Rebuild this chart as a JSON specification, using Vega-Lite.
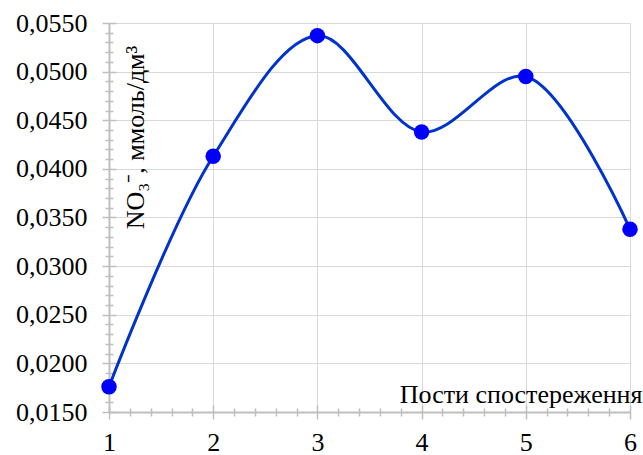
{
  "$schema": "https://vega.github.io/schema/vega-lite/v6.json",
  "width": 521,
  "height": 389,
  "autosize": "none",
  "padding": {"left": 109, "top": 23, "right": 13, "bottom": 43},
  "background": "white",
  "config": {
    "font": "Liberation Serif",
    "view": {"stroke": null},
    "axis": {
      "labelFont": "Liberation Serif",
      "titleFont": "Liberation Serif",
      "labelFontSize": 26,
      "titleFontSize": 26,
      "labelColor": "#000000",
      "titleColor": "#000000",
      "titleFontWeight": "normal",
      "tickColor": "#bfbfbf",
      "tickWidth": 1.5,
      "domain": false
    }
  },
  "data": {
    "values": [
      {"post": 1, "no3": 0.0176},
      {"post": 2, "no3": 0.0413},
      {"post": 3, "no3": 0.0537},
      {"post": 4, "no3": 0.0438},
      {"post": 5, "no3": 0.0495},
      {"post": 6, "no3": 0.0338}
    ]
  },
  "layer": [
    {
      "mark": {"type": "line", "interpolate": "catmull-rom", "color": "#0033cc", "strokeWidth": 3},
      "encoding": {
        "x": {
          "field": "post", "type": "quantitative",
          "scale": {"domain": [1, 6], "nice": false, "zero": false},
          "axis": {
            "orient": "bottom",
            "values": [1, 2, 3, 4, 5, 6],
            "format": "d",
            "offset": -7,
            "tickSize": 14,
            "labelPadding": 31,
            "labelBaseline": "alphabetic",
            "labelFont": "Liberation Serif",
            "labelFontSize": 26,
            "grid": true,
            "gridColor": {"condition": {"test": "datum.value === 1", "value": "#bfbfbf"}, "value": "#d9d9d9"},
            "gridWidth": {"condition": {"test": "datum.value === 1", "value": 2}, "value": 1},
            "title": "Пости спостереження",
            "titleFont": "Liberation Serif",
            "titleAlign": "right",
            "titleBaseline": "alphabetic",
            "titleX": 533,
            "titleY": -3,
            "labelFlush": false
          }
        },
        "y": {
          "field": "no3", "type": "quantitative",
          "scale": {"domain": [0.015, 0.055], "nice": false, "zero": false},
          "axis": {
            "orient": "left",
            "values": [0.015, 0.02, 0.025, 0.03, 0.035, 0.04, 0.045, 0.05, 0.055],
            "labelExpr": "replace(format(datum.value, '.4f'), '.', ',')",
            "labelFont": "Liberation Serif",
            "labelFontSize": 26,
            "offset": -7,
            "tickSize": 14,
            "labelPadding": 15,
            "grid": true,
            "gridColor": {"condition": {"test": "abs(datum.value - 0.015) < 0.0001", "value": "#bfbfbf"}, "value": "#d9d9d9"},
            "gridWidth": {"condition": {"test": "abs(datum.value - 0.015) < 0.0001", "value": 2}, "value": 1},
            "title": "NO₃⁻, ммоль/дм³",
            "titleFont": "Liberation Serif",
            "titleAngle": -90,
            "titleAlign": "center",
            "titleBaseline": "alphabetic",
            "titleX": 27,
            "titleY": 114,
            "labelFlush": false
          }
        }
      }
    },
    {
      "mark": {"type": "point", "filled": true, "size": 240, "color": "#0000ff", "opacity": 1},
      "encoding": {
        "x": {
          "field": "post", "type": "quantitative",
          "scale": {"domain": [1, 6], "nice": false, "zero": false},
          "axis": {
            "orient": "bottom",
            "values": [1.2, 1.4, 1.6, 1.8, 2.2, 2.4, 2.6, 2.8, 3.2, 3.4, 3.6, 3.8, 4.2, 4.4, 4.6, 4.8, 5.2, 5.4, 5.6, 5.8],
            "offset": -4,
            "tickSize": 8,
            "labels": false,
            "grid": false,
            "title": null
          }
        },
        "y": {
          "field": "no3", "type": "quantitative",
          "scale": {"domain": [0.015, 0.055], "nice": false, "zero": false},
          "axis": {
            "orient": "left",
            "values": [0.016, 0.017, 0.018, 0.019, 0.021, 0.022, 0.023, 0.024, 0.026, 0.027, 0.028, 0.029, 0.031, 0.032, 0.033, 0.034, 0.036, 0.037, 0.038, 0.039, 0.041, 0.042, 0.043, 0.044, 0.046, 0.047, 0.048, 0.049, 0.051, 0.052, 0.053, 0.054],
            "offset": -4,
            "tickSize": 8,
            "labels": false,
            "grid": false,
            "title": null
          }
        }
      }
    }
  ],
  "resolve": {"axis": {"x": "independent", "y": "independent"}}
}
